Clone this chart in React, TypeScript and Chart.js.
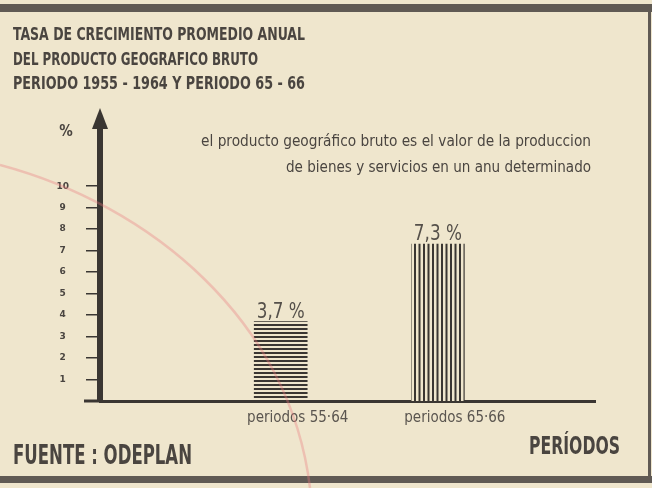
import { useEffect, useRef } from 'react';
import { Chart, registerables } from 'chart.js';

Chart.register(...registerables);

// ---- data ----
const categories = ['periodos 55·64', 'periodos 65·66'];
const categoryPositions = [1, 2];
const growthRates = [3.7, 7.3];
const valueLabels = ['3,7 %', '7,3 %'];
const yTickValues = [1, 2, 3, 4, 5, 6, 7, 8, 9, 10];
const titleLines = [
  'TASA DE CRECIMIENTO PROMEDIO ANUAL',
  'DEL PRODUCTO GEOGRAFICO BRUTO',
  'PERIODO 1955 - 1964 Y PERIODO 65 - 66',
];
const noteLines = [
  'el producto geográfico bruto es el valor de la produccion',
  'de bienes y servicios en un anu determinado',
];
const sourceText = 'FUENTE : ODEPLAN';
const xAxisTitle = 'PERÍODOS';
const yAxisUnit = '%';

// ---- style ----
const PAPER = '#efe6cd';
const INK = '#3a3632';
const TEXT = '#4a4540';
const NARROW = '"Liberation Sans Narrow", "DejaVu Sans Condensed", "Arial Narrow", sans-serif';

function makePattern(kind: 'h' | 'v'): CanvasPattern | string {
  const c = document.createElement('canvas');
  const size = kind === 'h' ? 4 : 9;
  c.width = size;
  c.height = size;
  const g = c.getContext('2d');
  if (!g) return INK;
  g.fillStyle = PAPER;
  g.fillRect(0, 0, size, size);
  g.fillStyle = INK;
  if (kind === 'h') {
    g.fillRect(0, 0, size, 2);
  } else {
    g.fillRect(0, 0, 2, size);
    g.fillRect(4.5, 0, 2, size);
  }
  return g.createPattern(c, 'repeat') || INK;
}

const decorPlugin = {
  id: 'decor',
  beforeDraw(chart: any) {
    const { ctx, width, height } = chart;
    ctx.save();
    ctx.fillStyle = PAPER;
    ctx.fillRect(0, 0, width, height);
    // printed frame bands
    ctx.fillStyle = '#605a54';
    ctx.fillRect(0, 4, width, 8);
    ctx.fillRect(0, 476, width, 7);
    ctx.fillRect(648, 4, 3, 479);
    ctx.restore();
  },
  afterDraw(chart: any) {
    const { ctx, chartArea } = chart;
    const ys = chart.scales.y;
    ctx.save();

    // baseline extension left of the y axis
    const y0 = ys.getPixelForValue(0);
    ctx.strokeStyle = INK;
    ctx.lineWidth = 3;
    ctx.beginPath();
    ctx.moveTo(chartArea.left - 16, y0);
    ctx.lineTo(chartArea.left, y0);
    ctx.stroke();

    // arrow head on y axis
    const ax = chartArea.left;
    ctx.fillStyle = INK;
    ctx.beginPath();
    ctx.moveTo(ax, chartArea.top - 18);
    ctx.lineTo(ax - 8, chartArea.top + 3);
    ctx.lineTo(ax + 8, chartArea.top + 3);
    ctx.closePath();
    ctx.fill();

    // title
    ctx.fillStyle = TEXT;
    ctx.textAlign = 'left';
    ctx.textBaseline = 'alphabetic';
    ctx.font = `bold 18px ${NARROW}`;
    const titleW = [292, 245, 292];
    titleLines.forEach((t, i) => ctx.fillText(t, 13, 40 + i * 24.5, titleW[i]));

    // unit
    ctx.font = `bold 15px ${NARROW}`;
    ctx.textAlign = 'center';
    ctx.fillText(yAxisUnit, 66, 136);

    // note
    ctx.font = `16px ${NARROW}`;
    ctx.textAlign = 'right';
    ctx.fillText(noteLines[0], 591, 146, 390);
    ctx.fillText(noteLines[1], 591, 172, 305);

    // value labels
    const meta = chart.getDatasetMeta(0);
    ctx.font = `22px ${NARROW}`;
    ctx.textAlign = 'center';
    ctx.fillStyle = '#55504a';
    meta.data.forEach((bar: any, i: number) => {
      ctx.fillText(valueLabels[i], bar.x, bar.y - 4, 48);
    });

    // footer texts
    ctx.fillStyle = TEXT;
    ctx.font = `bold 26px ${NARROW}`;
    ctx.textAlign = 'left';
    ctx.fillText(sourceText, 13, 464, 179);
    ctx.textAlign = 'right';
    ctx.font = `bold 24px ${NARROW}`;
    ctx.fillText(xAxisTitle, 620, 454, 91);

    // faint pink pen stroke on the paper
    ctx.strokeStyle = 'rgba(236, 120, 125, 0.35)';
    ctx.lineWidth = 2.5;
    ctx.beginPath();
    ctx.moveTo(0, 165);
    ctx.bezierCurveTo(150, 205, 290, 320, 310, 488);
    ctx.stroke();

    ctx.restore();
  },
};

export default function App() {
  const ref = useRef<HTMLCanvasElement | null>(null);

  useEffect(() => {
    document.body.style.margin = '0';
    const canvas = ref.current;
    if (!canvas) return;
    const chart = new Chart(canvas, {
      type: 'bar',
      data: {
        datasets: [
          {
            data: categoryPositions.map((x, i) => ({ x, y: growthRates[i] })),
            backgroundColor: [makePattern('h'), makePattern('v')] as any,
            borderWidth: 0,
            barThickness: 53,
          },
        ],
      },
      options: {
        responsive: false,
        animation: false,
        layout: { padding: { top: 126, right: 57, left: 0, bottom: 0 } },
        plugins: {
          legend: { display: false },
          tooltip: { enabled: false },
          title: { display: false },
        },
        scales: {
          x: {
            type: 'linear',
            offset: false,
            min: -0.15,
            max: 3,
            afterBuildTicks: (s: any) => {
              s.ticks = categoryPositions.map((v) => ({ value: v }));
            },
            afterFit: (s: any) => {
              s.height = 87;
            },
            grid: { display: false, drawTicks: false, offset: false },
            border: { display: true, color: INK, width: 3 },
            ticks: {
              callback: (v: any) => {
                const i = categoryPositions.indexOf(Number(v));
                return i >= 0 ? categories[i] : '';
              },
              font: { family: NARROW, size: 15 },
              color: '#5a554f',
              padding: 8,
              labelOffset: 17,
              autoSkip: false,
              maxRotation: 0,
            },
          },
          y: {
            type: 'linear',
            min: 0,
            max: 12.8,
            afterBuildTicks: (s: any) => {
              s.ticks = yTickValues.map((v) => ({ value: v }));
            },
            afterFit: (s: any) => {
              s.width = 100;
            },
            grid: {
              drawOnChartArea: false,
              drawTicks: true,
              tickLength: 14,
              color: INK,
              lineWidth: 1.5,
            },
            border: { display: true, color: INK, width: 6 },
            ticks: {
              font: { family: 'DejaVu Sans', size: 9, weight: 'bold' },
              color: TEXT,
              padding: 17,
              crossAlign: 'center',
            },
          },
        },
      },
      plugins: [decorPlugin],
    } as any);
    return () => chart.destroy();
  }, []);

  return (
    <div style={{ width: 652, height: 488 }}>
      <canvas ref={ref} width={652} height={488} style={{ display: 'block' }} />
    </div>
  );
}
